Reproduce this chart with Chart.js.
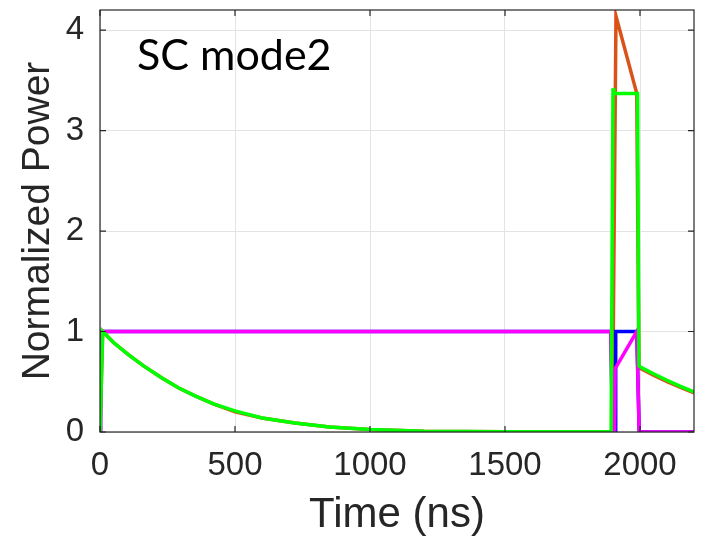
<!DOCTYPE html>
<html>
<head>
<meta charset="utf-8">
<script src="https://cdn.jsdelivr.net/npm/chart.js"></script>
<style>
  html, body { margin: 0; padding: 0; background: #fff; }
  #wrap { width: 706px; height: 541px; position: relative; }
</style>
</head>
<body>
<div id="wrap"><canvas id="powerChart" width="706" height="541"></canvas></div>
<script>
// time axis ticks (ns) and power ticks
const xTicks = [0, 500, 1000, 1500, 2000];
const yTicks = [0, 1, 2, 3, 4];

// orange trace
const orangeT = [0, 10, 50, 105, 160, 228, 290, 352, 420, 500, 600, 722, 850, 1000, 1200, 1350, 1500, 1700, 1898, 1911, 1988, 1996, 2000, 2050, 2100, 2150, 2200];
const orangeP = [0, 1.0, 0.89, 0.77, 0.66, 0.54, 0.44, 0.36, 0.28, 0.20, 0.14, 0.09, 0.05, 0.024, 0.007, 0.004, 0.003, 0.003, 0.005, 4.14, 3.37, 0.64, 0.635, 0.565, 0.5, 0.445, 0.39];

// blue trace
const blueT = [0, 2, 1892, 1898, 1908, 1910, 1988, 1997, 2200];
const blueP = [0, 1, 1, 0, 0, 1, 1, 0, 0];

// magenta trace
const magentaT = [0, 2, 1892, 1898, 1906, 1908, 1988, 1997, 2200];
const magentaP = [0, 1, 1, 0, 0, 0.63, 1, 0, 0];

// green trace
const greenT = [0, 10, 50, 105, 160, 228, 290, 352, 420, 500, 600, 722, 850, 1000, 1200, 1350, 1500, 1700, 1893, 1900, 1903, 1991, 1996, 2000, 2050, 2100, 2150, 2200];
const greenP = [0, 1.0, 0.89, 0.77, 0.66, 0.54, 0.44, 0.36, 0.28, 0.21, 0.14, 0.09, 0.05, 0.024, 0.007, 0.004, 0.003, 0.003, 0.005, 3.42, 3.37, 3.37, 0.66, 0.65, 0.58, 0.515, 0.455, 0.40];

const pts = (t, p) => t.map((v, i) => ({ x: v, y: p[i] }));

const axisColor = "#262626";
const tickFont = { family: "'Liberation Sans', Arial, sans-serif", size: 33 };

// box outline, inward tick marks and panel label
const boxPlugin = {
  id: "box",
  afterDraw(chart) {
    const { ctx, chartArea: a, scales } = chart;
    ctx.save();
    ctx.strokeStyle = axisColor;
    ctx.lineWidth = 1.2;
    ctx.strokeRect(a.left, a.top, a.right - a.left, a.bottom - a.top);
    ctx.beginPath();
    xTicks.forEach(v => {
      const x = scales.x.getPixelForValue(v);
      ctx.moveTo(x, a.bottom); ctx.lineTo(x, a.bottom - 6);
      ctx.moveTo(x, a.top); ctx.lineTo(x, a.top + 6);
    });
    yTicks.forEach(v => {
      const y = scales.y.getPixelForValue(v);
      ctx.moveTo(a.left, y); ctx.lineTo(a.left + 6, y);
      ctx.moveTo(a.right, y); ctx.lineTo(a.right - 6, y);
    });
    ctx.stroke();
    ctx.fillStyle = "#000";
    ctx.font = "43px Lato, 'Open Sans', sans-serif";
    ctx.textBaseline = "alphabetic";
    ctx.fillText("SC mode2", 137, 70);
    ctx.restore();
  }
};

const line = (label, data, color, order) => ({
  label, data, borderColor: color, backgroundColor: color,
  borderWidth: 3.5, pointRadius: 0, tension: 0, order
});

new Chart(document.getElementById("powerChart"), {
  type: "line",
  data: {
    datasets: [
      line("green", pts(greenT, greenP), "#00FF00", 1),
      line("magenta", pts(magentaT, magentaP), "#FF00FF", 2),
      line("blue", pts(blueT, blueP), "#0000FF", 3),
      line("orange", pts(orangeT, orangeP), "#D95319", 4)
    ]
  },
  options: {
    responsive: false,
    animation: false,
    layout: { padding: { left: 0, right: 12, top: 10, bottom: 0 } },
    plugins: { legend: { display: false }, tooltip: { enabled: false } },
    scales: {
      x: {
        type: "linear", min: 0, max: 2200,
        afterBuildTicks: s => { s.ticks = xTicks.map(v => ({ value: v })); },
        afterFit: s => { s.height = 109; s.paddingLeft = 0; s.paddingRight = 0; },
        grid: { color: "#e3e3e3", drawTicks: false },
        border: { display: false },
        ticks: { color: axisColor, padding: 14, maxRotation: 0, font: tickFont, callback: v => String(v) },
        title: { display: true, text: "Time (ns)", color: axisColor, padding: { top: 0, bottom: 0 },
                 font: { family: "'Liberation Sans', Arial, sans-serif", size: 42 } }
      },
      y: {
        type: "linear", min: 0, max: 4.2,
        afterBuildTicks: s => { s.ticks = yTicks.map(v => ({ value: v })); },
        afterFit: s => { s.width = 100; s.paddingTop = 0; s.paddingBottom = 0; },
        grid: { color: "#e3e3e3", drawTicks: false },
        border: { display: false },
        ticks: { color: axisColor, padding: 16, font: tickFont, callback: v => String(v) },
        title: { display: true, text: "Normalized Power", color: axisColor, padding: { top: 15, bottom: 0 },
                 font: { family: "'Liberation Sans', Arial, sans-serif", size: 39 } }
      }
    }
  },
  plugins: [boxPlugin]
});
</script>
</body>
</html>
